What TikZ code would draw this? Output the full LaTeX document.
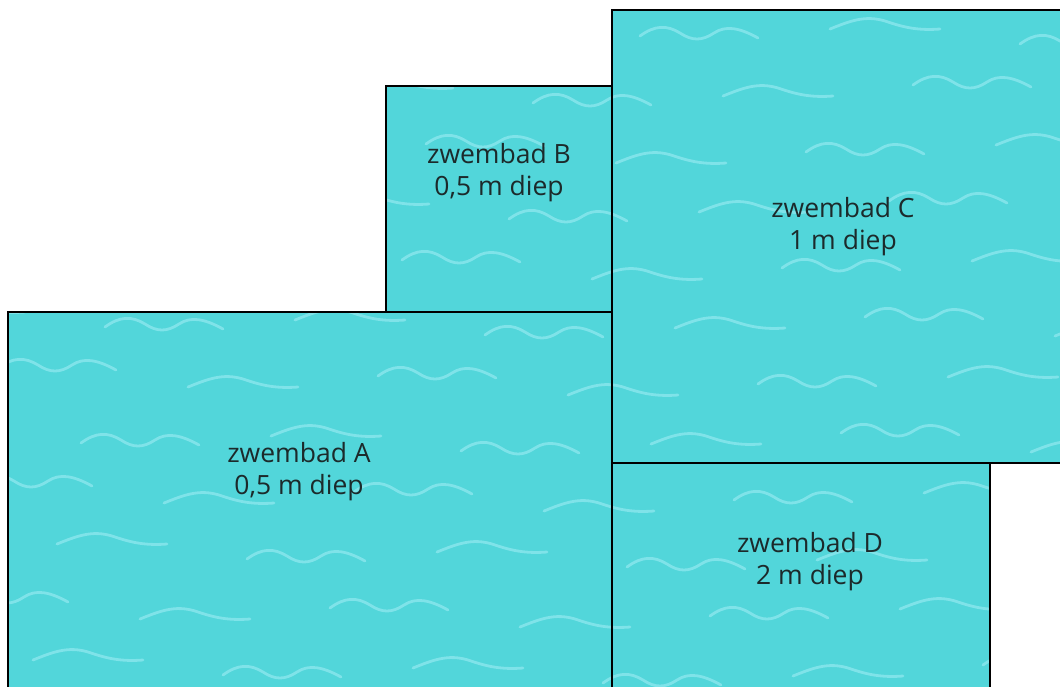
\documentclass[tikz,border=0pt]{standalone}
\usepackage{fontspec}
\setmainfont{Open Sans}
\definecolor{poolfill}{HTML}{52D6DA}
\definecolor{wavecol}{HTML}{7FE3E9}
\definecolor{txt}{HTML}{1C2A2B}
\begin{document}
\begin{tikzpicture}[x=1pt,y=-1pt,
  poolfill/.style={fill=poolfill,draw=none},
  border/.style={draw=black,line width=2.8pt},
  lbl/.style={font=\fontsize{26.5}{32}\selectfont, text=txt, align=center, inner sep=0pt},
  wave/.style={draw=wavecol, line width=2.8pt, line cap=round},
  wv/.pic={\draw[wave] (0,0) .. controls (15,-11) and (27,-11) .. (40,-3) .. controls (52,5) and (62,5) .. (74,-3) .. controls (86,-11) and (100,-8) .. (118,2);},
  wvb/.pic={\draw[wave] (0,2) .. controls (20,-6) and (35,-12) .. (55,-6) .. controls (70,-1) and (85,4) .. (110,2);}]
\useasboundingbox (0,0) rectangle (1060,686);
\clip (0,0) rectangle (1060,686);
% fills
\fill[poolfill] (8,312) rectangle (612,700);
\fill[poolfill] (386,86) rectangle (612,312);
\fill[poolfill] (612,10) rectangle (1075,463);
\fill[poolfill] (612,463) rectangle (990,700);
% waves
\begin{scope}
\clip (8,312) rectangle (612,700) (386,86) rectangle (612,312) (612,10) rectangle (1075,463) (612,463) rectangle (990,700);
\foreach \r in {0,...,12}{
  \foreach \c in {0,...,6}{
    \pgfmathsetmacro{\xx}{\c*190 - 120 + mod(\r*83,190)}
    \pgfmathsetmacro{\yy}{\r*58 + 20 + mod(\c*17,26)}
    \pgfmathtruncatemacro{\k}{mod(\r+\c,2)}
    \ifnum\k=0 \pic at (\xx,\yy) {wv}; \else \pic at (\xx,\yy) {wvb}; \fi
  }
}
\end{scope}
% borders
\draw[border] (8,700) -- (8,312) -- (612,312) -- (612,700);
\draw[border] (386,312) -- (386,86) -- (612,86) -- (612,312);
\draw[border] (1075,10) -- (612,10) -- (612,463) -- (1075,463);
\draw[border] (612,463) -- (990,463) -- (990,700);
% labels
\node[lbl] (la) at (299,472) {zwembad A\\0,5 m diep};
\node[lbl] (lb) at (499,173) {zwembad B\\0,5 m diep};
\node[lbl] (lc) at (843,227) {zwembad C\\1 m diep};
\node[lbl] (ld) at (810,562) {zwembad D\\2 m diep};
\end{tikzpicture}
\end{document}
